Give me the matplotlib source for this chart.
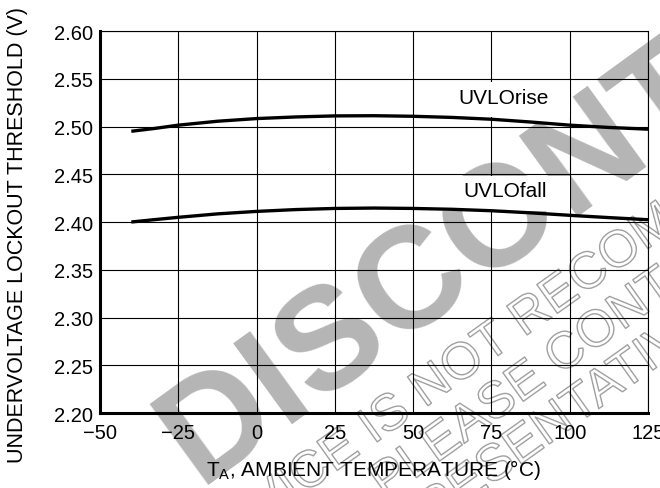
import matplotlib
matplotlib.use('Agg')
import matplotlib.pyplot as plt
import matplotlib.patheffects as pe
from matplotlib.patches import Rectangle

plt.rcParams['font.family'] = ['Liberation Sans', 'DejaVu Sans']

# ---- data ----
temp = [-40, -32.5, -25, -12.5, 0, 12.5, 25, 37.5, 50, 62.5, 75, 87.5, 100, 112.5, 125]
uvlo_rise = [2.495, 2.498, 2.5014, 2.5055, 2.5083, 2.5100, 2.5111, 2.5113, 2.5107, 2.5095,
             2.5076, 2.5047, 2.5014, 2.4990, 2.4972]
uvlo_fall = [2.400, 2.4025, 2.4049, 2.4085, 2.4111, 2.4130, 2.4142, 2.4146, 2.4142, 2.4133,
             2.4118, 2.4096, 2.4070, 2.4046, 2.4024]

x_ticks = [-50, -25, 0, 25, 50, 75, 100, 125]
x_labels = ['\u221250', '\u221225', '0', '25', '50', '75', '100', '125']
y_ticks = [2.20, 2.25, 2.30, 2.35, 2.40, 2.45, 2.50, 2.55, 2.60]
y_labels = ['%.2f' % v for v in y_ticks]

W, H = 660, 489
fig = plt.figure(figsize=(W / 100, H / 100), dpi=100)
fig.patch.set_facecolor('white')

def px(x, y):
    # figure fraction from pixel position (origin top-left)
    return x / W, 1 - y / H

# ---- watermark (behind everything) ----
wm_gray = '#b5b5b5'
fig.text(*px(199, 485), 'DISCONTINUED', fontsize=104, fontweight='bold', color=wm_gray,
         rotation=36, rotation_mode='anchor', ha='left', va='baseline', zorder=-5)
outline = [pe.Stroke(linewidth=1.0, foreground='#a0a0a0')]
for (xx, yy), line in [((206, 565), 'DEVICE IS NOT RECOMMENDED FOR NEW DESIGN'),
                       ((385, 501), 'PLEASE CONTACT YOUR ON SEMICONDUCTOR'),
                       ((346, 590), 'REPRESENTATIVE FOR INFORMATION')]:
    t = fig.text(*px(xx, yy), line, fontsize=37, color='none', rotation=35.5,
                 rotation_mode='anchor', ha='left', va='baseline', zorder=-4)
    t.set_path_effects(outline)

# ---- axes ----
ax = fig.add_axes([100 / W, 1 - 414 / H, 548 / W, 382 / H])
ax.patch.set_visible(False)
ax.set_xlim(-50, 125)
ax.set_ylim(2.20, 2.60)
ax.set_xticks(x_ticks)
ax.set_xticklabels(x_labels)
ax.set_yticks(y_ticks)
ax.set_yticklabels(y_labels)
ax.tick_params(length=0, labelsize=14.5, colors='black')
ax.tick_params(axis='x', pad=7)
ax.tick_params(axis='y', pad=5)
ax.grid(True, color='black', linewidth=0.8)
ax.set_axisbelow(True)
for side in ['left', 'bottom']:
    ax.spines[side].set_linewidth(2.2)
for side in ['top', 'right']:
    ax.spines[side].set_linewidth(0.8)

# label boxes that hide the grid behind the curve names
ax.add_patch(Rectangle((58, 2.510), 42, 0.037, facecolor='white', edgecolor='none', zorder=1.5))
ax.add_patch(Rectangle((58, 2.4115), 42, 0.0365, facecolor='white', edgecolor='none', zorder=1.5))

ax.plot(temp, uvlo_rise, color='black', linewidth=2.4, zorder=3, solid_capstyle='butt')
ax.plot(temp, uvlo_fall, color='black', linewidth=2.4, zorder=3, solid_capstyle='butt')

ax.text(79, 2.5307, 'UVLOrise', fontsize=15, ha='center', va='center', zorder=4)
ax.text(79.4, 2.4328, 'UVLOfall', fontsize=15, ha='center', va='center', zorder=4)

fig.text(*px(18, 235), 'UNDERVOLTAGE LOCKOUT THRESHOLD (V)', fontsize=15.5,
         rotation=90, ha='center', va='center')
fig.text(*px(374, 470), 'T$_\\mathregular{A}$, AMBIENT TEMPERATURE (\u00b0C)', fontsize=15,
         ha='center', va='center')

fig.savefig('out.png', dpi=100)
